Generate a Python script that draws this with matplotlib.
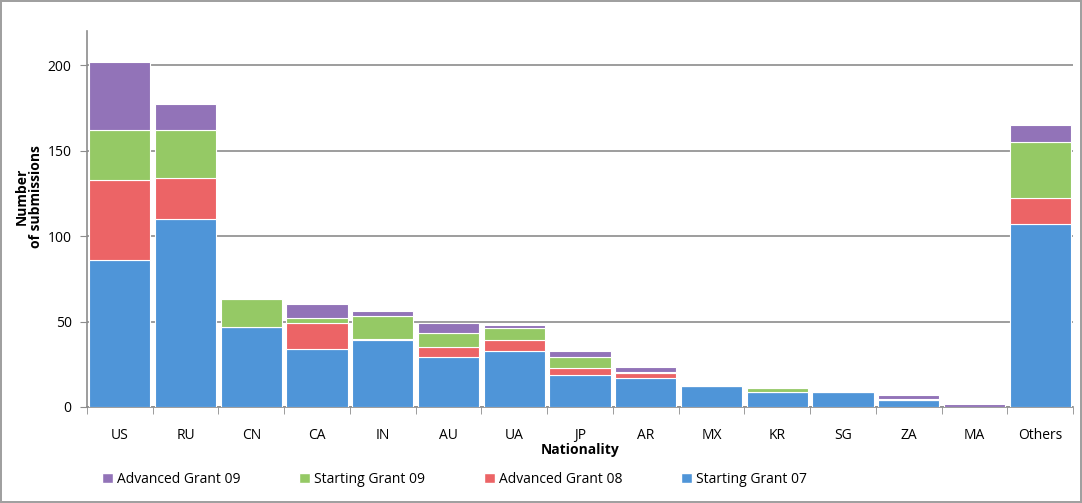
import matplotlib.pyplot as plt
from matplotlib.patches import Patch
import numpy as np

plt.rcParams['font.family'] = ['Open Sans', 'DejaVu Sans']

# data
countries = ['US', 'RU', 'CN', 'CA', 'IN', 'AU', 'UA', 'JP', 'AR', 'MX', 'KR', 'SG', 'ZA', 'MA', 'Others']
starting_07 = [86, 110, 47, 34, 39, 29, 33, 19, 17, 12, 9, 8.5, 4, 0, 107]
advanced_08 = [47, 24, 0, 15, 1, 6, 6, 4, 3, 0, 0, 0, 0, 0, 15]
starting_09 = [29, 28, 16, 3, 13, 8, 7, 6, 0.5, 1, 2, 1, 0.5, 0, 33]
advanced_09 = [40, 15, 0, 8, 3, 6, 2, 4, 3, 0, 0, 0, 2.5, 2, 10]

series = [
    ('Starting Grant 07', starting_07, '#4f95d8'),
    ('Advanced Grant 08', advanced_08, '#ec6466'),
    ('Starting Grant 09', starting_09, '#95c965'),
    ('Advanced Grant 09', advanced_09, '#9273b8'),
]

fig = plt.figure(figsize=(10.82, 5.03), dpi=100)
fig.patch.set_edgecolor('#a0a0a0')
fig.patch.set_linewidth(1.5)
ax = fig.add_axes([0.0804, 0.1909, 0.9113, 0.7475])

x = np.arange(len(countries))
bottom = np.zeros(len(countries))
handles = {}
for name, vals, col in series:
    vals = np.array(vals, dtype=float)
    ax.bar(x, vals, width=0.93, bottom=bottom, color=col,
           edgecolor='white', linewidth=0.8, zorder=3)
    handles[name] = Patch(facecolor=col, edgecolor='white')
    bottom += vals

ax.set_xlim(-0.5, len(countries) - 0.5)
ax.set_ylim(0, 220)
ax.set_yticks([0, 50, 100, 150, 200])
ax.yaxis.grid(True, color='#8c8c8c', linewidth=1.2, zorder=0)
ax.set_xticks(x)
ax.set_xticklabels(countries, fontsize=10)
ax.set_xticks(np.arange(-0.5, len(countries)), minor=True)
ax.tick_params(axis='x', which='major', length=0, pad=15)
ax.tick_params(axis='x', which='minor', length=5, color='#8c8c8c')
ax.tick_params(axis='y', length=5, color='#8c8c8c', labelsize=10, pad=6)
for s in ['top', 'right']:
    ax.spines[s].set_visible(False)
for s in ['left', 'bottom']:
    ax.spines[s].set_color('#8c8c8c')
    ax.spines[s].set_linewidth(1.2)

ax.set_xlabel('Nationality', fontsize=10, fontweight='bold', labelpad=0)
ax.set_ylabel('Number\nof submissions', fontsize=10, fontweight='bold',
              linespacing=1.0)
ax.yaxis.set_label_coords(-0.045, 0.56)

order = ['Advanced Grant 09', 'Starting Grant 09', 'Advanced Grant 08', 'Starting Grant 07']
fig.legend([handles[n] for n in order], order, ncol=4, loc='center',
           bbox_to_anchor=(0.42, 0.047), frameon=False, fontsize=10,
           handlelength=0.8, handleheight=0.8, handletextpad=0.3, columnspacing=4.2)

fig.savefig('out.png', dpi=100)
